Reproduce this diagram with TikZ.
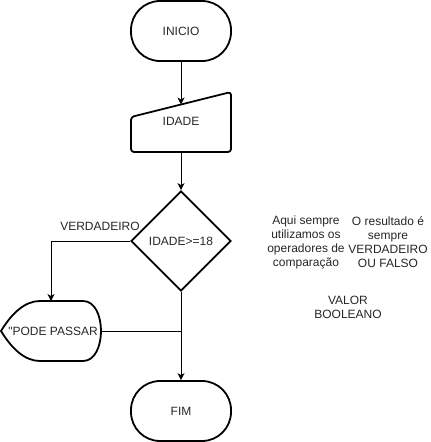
\documentclass[tikz,border=0pt]{standalone}
\usepackage{fontspec}
\newfontfamily\arialf{Liberation Sans}
\usetikzlibrary{shapes.geometric,arrows.meta}
\begin{document}
\begin{tikzpicture}[x=1pt,y=-1pt,
  shapeline/.style={draw=black, line width=1.8pt},
  txt/.style={font=\arialf\fontsize{12}{14}\selectfont, align=center, text=black!85, inner sep=0pt},
  term/.style={shapeline, rectangle, rounded corners=29pt, minimum width=100pt, minimum height=60pt, inner sep=0pt, font=\arialf\fontsize{12}{14}\selectfont, text=black!85},
  conn/.style={draw=black, line width=1pt, -{Stealth[length=7pt,width=7pt,inset=2pt]}},
  plainconn/.style={draw=black, line width=1pt}]
\useasboundingbox (0,0) rectangle (431,442);
% start
\node[term] (inicio) at (181,31) {INICIO};
% manual input
\draw[shapeline, rounded corners=3pt, line join=round] (131,117) -- (231,92) -- (231,152) -- (131,152) -- cycle;
\node[txt] (idade) at (181,121) {IDADE};
\coordinate (idadeTop) at (181,104.5);
\coordinate (idadeBot) at (181,152);
% decision
\node[shapeline, diamond, minimum width=100pt, minimum height=100pt, inner sep=0pt, font=\arialf\fontsize{12}{14}\selectfont, text=black!85] (dec) at (181,241) {IDADE>=18};
\node[txt] (verd) at (100,226) {VERDADEIRO};
% display
\draw[shapeline] (1,331) .. controls (12,313) and (25,301) .. (40,301) -- (83,301)
  .. controls (95,301) and (101,316) .. (101,331)
  .. controls (101,346) and (95,361) .. (83,361) -- (40,361)
  .. controls (25,361) and (12,349) .. (1,331) -- cycle;
\node[txt] (pode) at (53,331) {"PODE PASSAR};
\coordinate (podeTop) at (51,301);
\coordinate (podeRight) at (101,331);
\coordinate (joinpt) at (181,331);
% end
\node[term] (fim) at (181,411) {FIM};
% notes
\node[txt] (note1) at (306,242) {Aqui sempre\\utilizamos os\\operadores de\\comparação};
\node[txt] (note2) at (388,242) {O resultado é\\sempre\\VERDADEIRO\\OU FALSO};
\node[txt] (note3) at (348,307) {VALOR\\BOOLEANO};
% connectors
\draw[conn] (inicio.south) -- (idadeTop);
\draw[conn] (idadeBot) -- (dec.north);
\draw[conn] (dec.west) -| (podeTop);
\draw[plainconn] (podeRight) -- (joinpt);
\draw[conn] (dec.south) -- (fim.north);
\end{tikzpicture}
\end{document}
